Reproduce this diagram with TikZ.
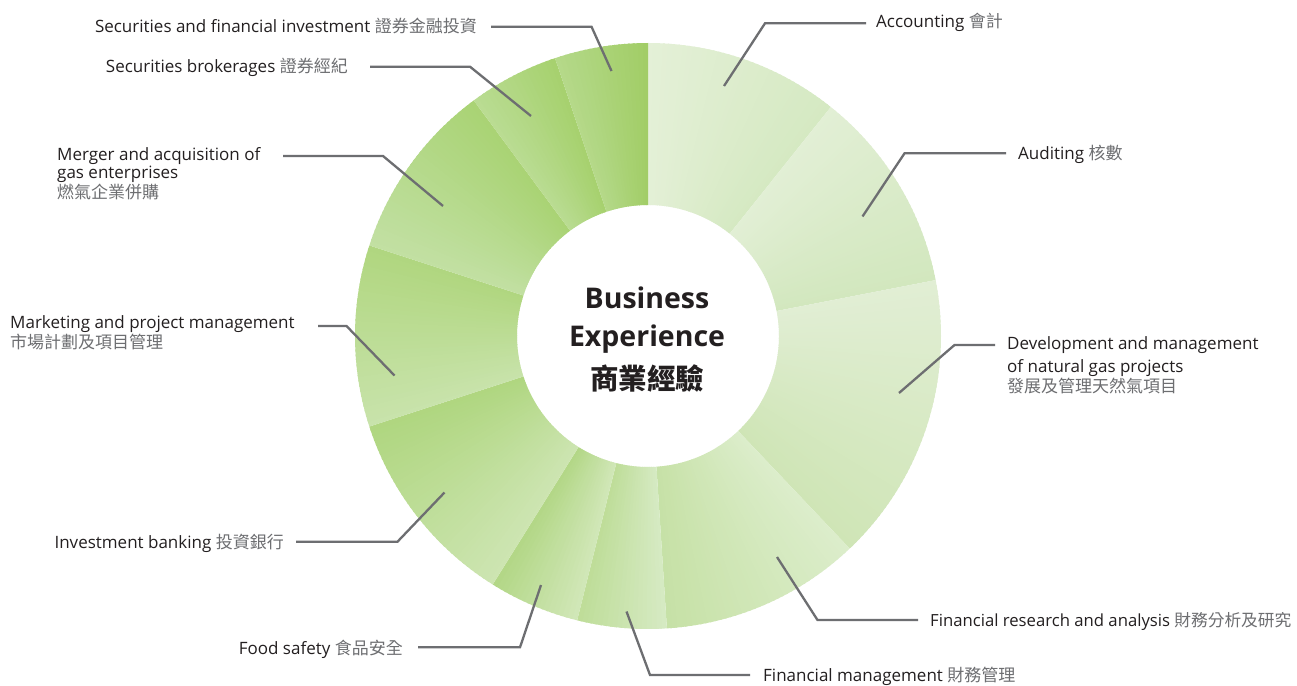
\documentclass[tikz,border=0pt]{standalone}
\usepackage{fontspec}
\setmainfont{Open Sans}
\newfontfamily\cjk{Noto Sans CJK TC}
\definecolor{lbltext}{HTML}{231F20}
\definecolor{cjkgray}{HTML}{6D6E71}
\definecolor{leadergray}{HTML}{6D6E71}
\definecolor{accL}{HTML}{E4F0D7}\definecolor{accD}{HTML}{D5E9C2}
\definecolor{audL}{HTML}{E2EFD5}\definecolor{audD}{HTML}{D2E7BE}
\definecolor{devL}{HTML}{E1EED4}\definecolor{devD}{HTML}{CFE5B6}
\definecolor{frL}{HTML}{DCEDCB}\definecolor{frD}{HTML}{C6E1A6}
\definecolor{fmL}{HTML}{D6EAC3}\definecolor{fmD}{HTML}{BEDD98}
\definecolor{fsL}{HTML}{D1E7B8}\definecolor{fsD}{HTML}{B2D785}
\definecolor{ibL}{HTML}{CDE5B2}\definecolor{ibD}{HTML}{AFD67F}
\definecolor{mkL}{HTML}{C8E3AB}\definecolor{mkD}{HTML}{B0D67F}
\definecolor{maL}{HTML}{C2E0A3}\definecolor{maD}{HTML}{A9D374}
\definecolor{sbL}{HTML}{BADC93}\definecolor{sbD}{HTML}{A6D16E}
\definecolor{sfL}{HTML}{B5D98A}\definecolor{sfD}{HTML}{A1CD66}
\newcommand\ringseg[4]{%
  \pgfmathtruncatemacro\segn{ceil((#2-#1)/1.0)}%
  \foreach \k in {1,...,\segn}{%
    \pgfmathsetmacro\angA{#1+(\k-1)*(#2-#1)/\segn-90}%
    \pgfmathsetmacro\angB{#1+\k*(#2-#1)/\segn-90+0.4*(\k<\segn)}%
    \pgfmathtruncatemacro\mixp{100*(\k-0.5)/\segn}%
    \fill[#4!\mixp!#3] (\angA:131) -- (\angA:293) -- (\angB:293) -- (\angB:131) -- cycle;
  }}
\begin{document}
\begin{tikzpicture}[x=1pt,y=-1pt,
  lbl/.style={font=\fontsize{17}{18}\selectfont, text=lbltext, inner sep=0pt, align=left},
  leader/.style={draw=leadergray, line width=2.3pt, line join=miter},
  center/.style={font=\fontsize{28.5}{30}\selectfont\bfseries, text=lbltext, inner sep=0pt, anchor=base}]
\fill[white] (0,0) rectangle (1297,685);
\useasboundingbox (0,0) rectangle (1297,685);
% ring
\begin{scope}[shift={(648,336)}]
  \ringseg{0}{38.6}{accL}{accD}
  \ringseg{38.6}{79}{audL}{audD}
  \ringseg{79}{136.5}{devL}{devD}
  \ringseg{136.5}{176.3}{frL}{frD}
  \ringseg{176.3}{194}{fmL}{fmD}
  \ringseg{194}{212}{fsL}{fsD}
  \ringseg{212}{252}{ibL}{ibD}
  \ringseg{252}{288}{mkL}{mkD}
  \ringseg{288}{323.5}{maL}{maD}
  \ringseg{323.5}{341.5}{sbL}{sbD}
  \ringseg{341.5}{360}{sfL}{sfD}
\end{scope}
% centre text
\node[center] (c1) at (647,308) {Business};
\node[center] (c2) at (647,346) {Experience};
\node[center] (c3) at (647,389) {\cjk\bfseries 商業經驗};
% labels right
\node[lbl, anchor=base west] (acc) at (876,28) {Accounting \textcolor{cjkgray}{\cjk 會計}};
\node[lbl, anchor=base west] (aud) at (1018,159) {Auditing \textcolor{cjkgray}{\cjk 核數}};
\node[lbl, anchor=base west] (dev) at (1007,392) {Development and management\\[5pt]of natural gas projects\\\textcolor{cjkgray}{\cjk 發展及管理天然氣項目}};
\node[lbl, anchor=base west, font=\fontsize{16.7}{18}\selectfont] (fr) at (930,626) {Financial research and analysis \textcolor{cjkgray}{\cjk 財務分析及研究}};
\node[lbl, anchor=base west] (fm) at (763,681) {Financial management \textcolor{cjkgray}{\cjk 財務管理}};
% labels left
\node[lbl, anchor=base east] (sf) at (477,32.5) {Securities and financial investment \textcolor{cjkgray}{\cjk 證券金融投資}};
\node[lbl, anchor=base east] (sb) at (348,72.5) {Securities brokerages \textcolor{cjkgray}{\cjk 證券經紀}};
\node[lbl, anchor=base west] (ma) at (57,198) {Merger and acquisition of\\gas enterprises\\\textcolor{cjkgray}{\cjk 燃氣企業併購}};
\node[lbl, anchor=base west] (mk) at (10,348) {Marketing and project management\\\textcolor{cjkgray}{\cjk 市場計劃及項目管理}};
\node[lbl, anchor=base east] (ib) at (284,548.5) {Investment banking \textcolor{cjkgray}{\cjk 投資銀行}};
\node[lbl, anchor=base east] (fs) at (403,654.5) {Food safety \textcolor{cjkgray}{\cjk 食品安全}};
% leader coordinates
\coordinate (acc-tip) at (724,86);   \coordinate (acc-bend) at (765,23.3);  \coordinate (acc-end) at (866,23.3);
\coordinate (aud-tip) at (862.5,216.5); \coordinate (aud-bend) at (904.5,153.3); \coordinate (aud-end) at (1006,153.3);
\coordinate (dev-tip) at (899,393);  \coordinate (dev-bend) at (954.5,345); \coordinate (dev-end) at (995,345);
\coordinate (fr-tip) at (777,557);   \coordinate (fr-bend) at (817.5,620);  \coordinate (fr-end) at (918,620);
\coordinate (fm-tip) at (626.5,611.5); \coordinate (fm-bend) at (650,675); \coordinate (fm-end) at (750,675);
\coordinate (sf-tip) at (611.5,71);  \coordinate (sf-bend) at (591.5,26.7); \coordinate (sf-end) at (491,26.7);
\coordinate (sb-tip) at (531,116);   \coordinate (sb-bend) at (470,66.7);  \coordinate (sb-end) at (370,66.7);
\coordinate (ma-tip) at (443,206);   \coordinate (ma-bend) at (383,156);   \coordinate (ma-end) at (283,156);
\coordinate (mk-tip) at (394.5,375.5); \coordinate (mk-bend) at (346.5,326); \coordinate (mk-end) at (318,326);
\coordinate (ib-tip) at (444.5,492.5); \coordinate (ib-bend) at (397.5,541.7); \coordinate (ib-end) at (296,541.7);
\coordinate (fs-tip) at (541,585);   \coordinate (fs-bend) at (520,647.3); \coordinate (fs-end) at (418,647.3);
\foreach \n in {acc,aud,dev,fr,fm,sf,sb,ma,mk,ib,fs}{
  \draw[leader] (\n-tip) -- (\n-bend) -- (\n-end);
}
\end{tikzpicture}
\end{document}
